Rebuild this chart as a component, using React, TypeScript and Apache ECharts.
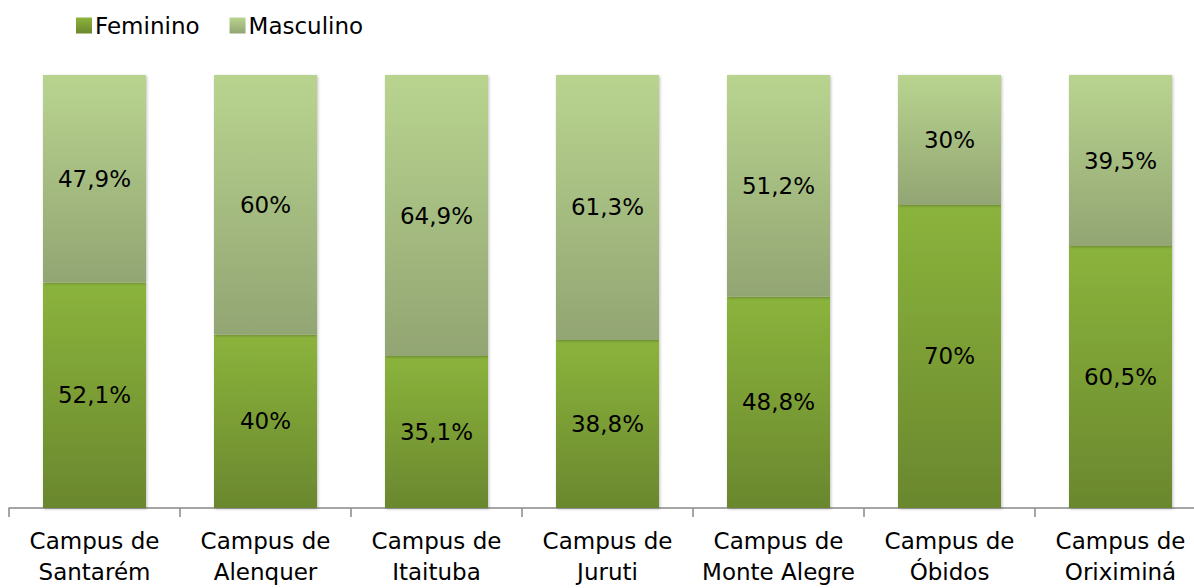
import React, { useEffect, useRef } from "react";
import * as echarts from "echarts";

const categories = [
  "Campus de\nSantarém",
  "Campus de\nAlenquer",
  "Campus de\nItaituba",
  "Campus de\nJuruti",
  "Campus de\nMonte Alegre",
  "Campus de\nÓbidos",
  "Campus de\nOriximiná",
];
const feminino = [52.1, 40, 35.1, 38.8, 48.8, 70, 60.5];
const masculino = [47.9, 60, 64.9, 61.3, 51.2, 30, 39.5];

const FONT = "'DejaVu Sans', sans-serif";

export default function App() {
  const ref = useRef<HTMLDivElement>(null);
  useEffect(() => {
    if (!ref.current) return;
    const chart = echarts.init(ref.current, undefined, { renderer: "svg" });
    const fmt = (p: any) => String(p.value).replace(".", ",") + "%";
    const femColor = new echarts.graphic.LinearGradient(0, 0, 0, 1, [
      { offset: 0, color: "#8bb43c" },
      { offset: 1, color: "#6a872e" },
    ]);
    const mascColor = new echarts.graphic.LinearGradient(0, 0, 0, 1, [
      { offset: 0, color: "#b9d48f" },
      { offset: 1, color: "#92a573" },
    ]);
    const shadow = {
      shadowBlur: 3,
      shadowColor: "rgba(0,0,0,0.25)",
      shadowOffsetX: 1,
      shadowOffsetY: 1,
    };
    const labelStyle = {
      show: true,
      position: "inside",
      formatter: fmt,
      fontSize: 23,
      color: "#000",
      fontFamily: FONT,
      offset: [0, 0],
    };
    chart.setOption({
      animation: false,
      textStyle: { fontFamily: FONT },
      legend: {
        left: 76,
        top: 14,
        padding: 0,
        itemWidth: 16,
        itemHeight: 16,
        itemGap: 30,
        icon: "rect",
        textStyle: { fontSize: 23, color: "#000", fontFamily: FONT, padding: [0, 0, 0, -2] },
        data: ["Feminino", "Masculino"],
      },
      grid: {
        left: 9,
        top: 75,
        width: 1197,
        height: 433,
        containLabel: false,
        outerBoundsMode: "none",
      },
      xAxis: {
        type: "category",
        data: categories,
        axisLine: { show: true, lineStyle: { color: "#888", width: 1.5 } },
        axisTick: { show: true, length: 9, interval: 0, lineStyle: { color: "#888", width: 1.5 } },
        axisLabel: {
          fontSize: 23,
          color: "#000",
          lineHeight: 31,
          margin: 17,
          fontFamily: FONT,
          interval: 0,
        },
      },
      yAxis: {
        type: "value",
        min: 0,
        max: 100,
        show: false,
        splitLine: { show: false },
      },
      series: [
        {
          name: "Feminino",
          type: "bar",
          stack: "total",
          data: feminino,
          barWidth: 103,
          itemStyle: { color: femColor, ...shadow },
          label: labelStyle,
        },
        {
          name: "Masculino",
          type: "bar",
          stack: "total",
          data: masculino,
          barWidth: 103,
          itemStyle: { color: mascColor, ...shadow },
          label: labelStyle,
        },
      ],
    });
    return () => chart.dispose();
  }, []);
  return (
    <div
      style={{ position: "fixed", left: 0, top: 0, width: 1194, height: 588, overflow: "hidden", background: "#fff" }}
    >
      <div ref={ref} style={{ width: 1230, height: 588 }} />
    </div>
  );
}
